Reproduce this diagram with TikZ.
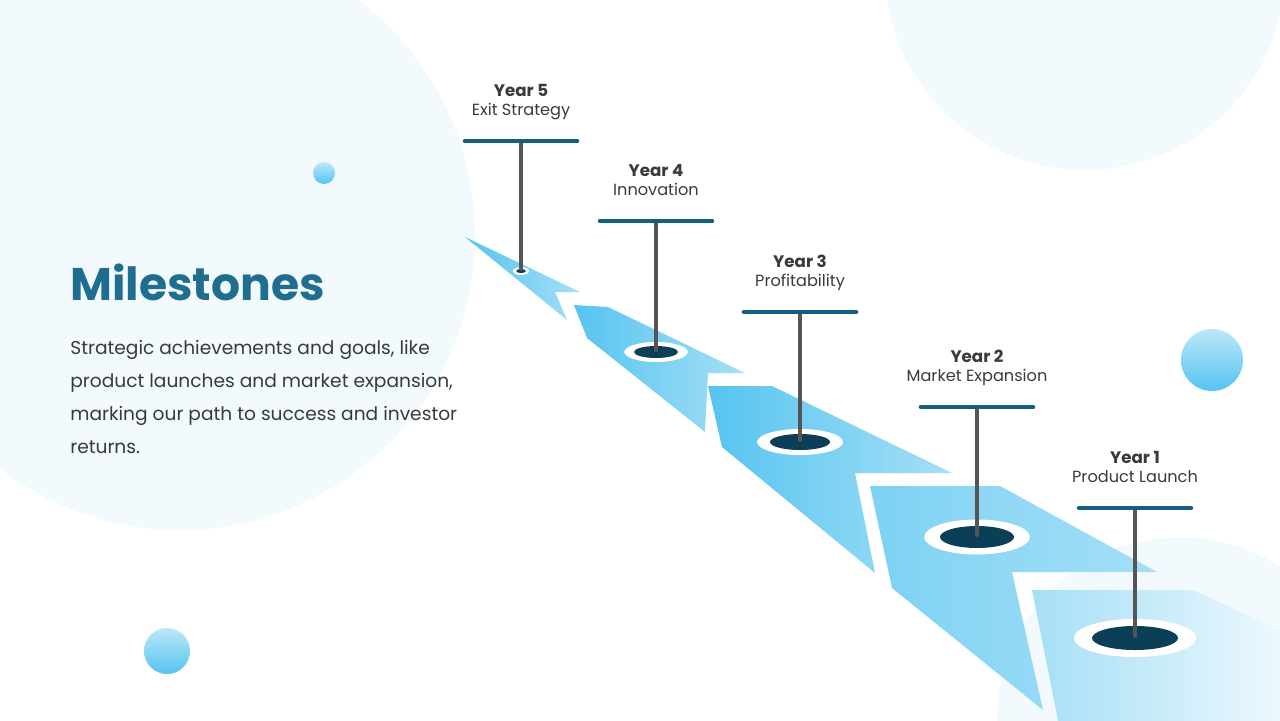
\documentclass[tikz,border=0pt]{standalone}
\usepackage{fontspec}
\setmainfont{Poppins}
\usetikzlibrary{positioning}
\definecolor{bgblue}{HTML}{F2FAFE}
\definecolor{pathA}{HTML}{56C4F0}
\definecolor{pathB}{HTML}{A5DFF6}
\definecolor{barblue}{HTML}{135F80}
\definecolor{holedark}{HTML}{0B3F57}
\definecolor{polegray}{HTML}{555555}
\definecolor{titleblue}{HTML}{1F6E90}
\definecolor{txtgray}{HTML}{3A3A3A}
\tikzset{
  segment/.style = {left color=#1, right color=pathB, draw=none},
  bar/.style = {draw=barblue, line width=2.6pt, line cap=round},
  pole/.style = {draw=polegray, line width=2.3pt, line cap=round},
  yearlbl/.style = {font=\fontsize{9.5}{11}\selectfont\bfseries, text=txtgray, inner sep=0pt},
  goallbl/.style = {font=\fontsize{9.2}{11}\selectfont, text=txtgray, inner sep=0pt},
  bubble/.style = {top color=white!60!pathA, bottom color=pathA, draw=none}
}
\begin{document}
\begin{tikzpicture}[x=0.02cm, y=-0.02cm]
\useasboundingbox (0,0) rectangle (1280,720);
\begin{scope}
\clip (0,0) rectangle (1280,720);

% background circles
\fill [bgblue] (180,235) circle (295);
\fill [bgblue] (1085,-30) circle (200);
\fill [bgblue] (1180,720) circle (183);

% path segments
\path [segment=pathA] (465,237) -- (580,292) -- (555,292) -- (567,320) -- cycle;
\path [segment=pathA] (574,305) -- (608,307) -- (745,373) -- (708,373) -- (705,432) -- (587,338) -- cycle;
\path [segment=pathA] (708,386) -- (772,386) -- (952,473) -- (855,473) -- (875,573) -- (722,447) -- cycle;
\path [segment=pathA!50!pathB] (870,486) -- (1000,486) -- (1157,572) -- (1012,572) -- (1043,710) -- (892,588) -- cycle;
\path [left color=pathB, right color=bgblue] (1032,590) -- (1193,590) -- (1300,640) -- (1300,740) -- (1062,740) -- cycle;
\end{scope}

% bubbles
\path [bubble] (324,173) circle (11);
\path [bubble] (1212,360) circle (31);
\path [bubble] (167,651) circle (23);

% milestones
\foreach \n/\x/\by/\hy/\rx/\ry/\goal in {
  5/521/141/271/5/2/{Exit Strategy},
  4/656/221/352/22/6/{Innovation},
  3/800/312/442/30/8/{Profitability},
  2/977/407/537/37/11/{Market Expansion},
  1/1135/508/638/43/12/{Product Launch}} {
  \fill [white] (\x,\hy) ellipse ({\rx*1.4+1} and {\ry*1.5+1});
  \fill [holedark] (\x,\hy) ellipse ({\rx} and {\ry});
  \coordinate (top\n) at (\x,\by);
  \coordinate (hole\n) at (\x,\hy-2);
  \draw [pole] (top\n) -- (hole\n);
  \draw [bar] (\x-56,\by) -- (\x+56,\by);
  \node [goallbl, anchor=base] (goal\n) at (\x,\by-26) {\goal};
  \node [yearlbl, anchor=base] (year\n) at (\x,\by-45) {Year \n};
}

% title and text
\node [anchor=base west, inner sep=0pt, text=titleblue,
  font=\fontsize{26}{30}\selectfont\bfseries] (title) at (70,300) {Milestones};
\node [anchor=north west, inner sep=0pt, text=txtgray, align=left,
  font=\fontsize{10.6}{18.8}\selectfont] (desc) at (70,340)
  {Strategic achievements and goals, like\\product launches and market expansion,\\marking our path to success and investor\\returns.};
\end{tikzpicture}
\end{document}
